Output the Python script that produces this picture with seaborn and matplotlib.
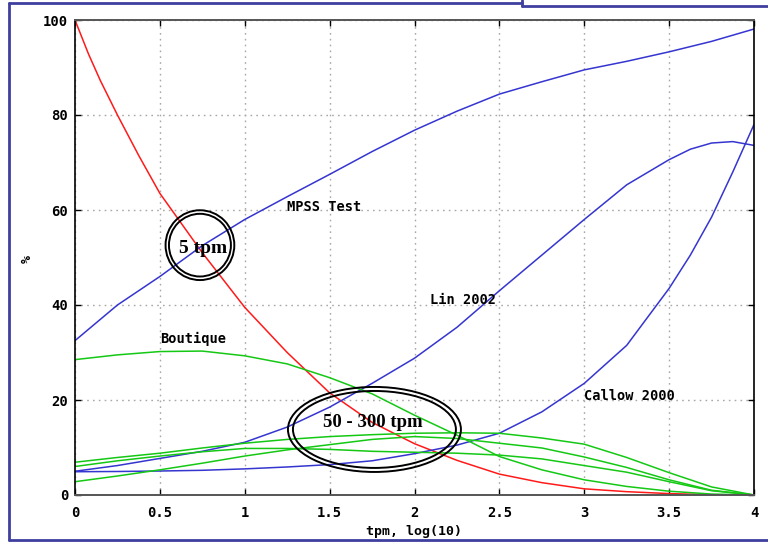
import numpy as np
import pandas as pd
import matplotlib
matplotlib.use("Agg")
import matplotlib.pyplot as plt
from matplotlib.patches import Ellipse
from matplotlib.lines import Line2D
import seaborn as sns

# ---- data ----
x_grid = [0, 0.25, 0.5, 0.75, 1.0, 1.25, 1.5, 1.75, 2.0, 2.25, 2.5, 2.75, 3.0, 3.25, 3.5, 3.75, 4.0]

red_x = [0, 0.04, 0.08, 0.15, 0.25, 0.375, 0.5, 0.75, 1.0, 1.25, 1.5, 1.75, 2.0, 2.25, 2.5, 2.75, 3.0, 3.25, 3.5, 3.7]
red_y = [100, 96.4, 92.8, 87.2, 80, 71.5, 63.5, 51, 39.5, 30, 21.5, 15.3, 10.8, 7.3, 4.4, 2.6, 1.3, 0.7, 0.3, 0.1]

mpss_y = [32.5, 40, 46, 52.5, 58, 62.8, 67.5, 72.3, 76.8, 80.8, 84.4, 87, 89.5, 91.3, 93.3, 95.5, 98.1]

lin_x = [0, 0.25, 0.5, 0.75, 1.0, 1.25, 1.5, 1.75, 2.0, 2.25, 2.5, 2.75, 3.0, 3.25, 3.5, 3.625, 3.75, 3.875, 4.0]
lin_y = [5.0, 6.2, 7.7, 9.2, 11.1, 14.3, 18.5, 23.5, 28.8, 35.3, 43, 50.5, 58, 65.3, 70.6, 72.8, 74.1, 74.4, 73.6]

callow_x = [0, 0.25, 0.5, 0.75, 1.0, 1.25, 1.5, 1.75, 2.0, 2.25, 2.5, 2.75, 3.0, 3.25, 3.5, 3.625, 3.75, 3.875, 4.0]
callow_y = [4.9, 4.95, 5.05, 5.2, 5.5, 5.9, 6.4, 7.2, 8.7, 10.5, 13, 17.5, 23.5, 31.5, 43.5, 50.5, 58.5, 68, 78]

boutique_y = [28.5, 29.5, 30.2, 30.3, 29.3, 27.6, 24.7, 21.3, 16.8, 12.6, 8.1, 5.3, 3.2, 1.8, 0.8, 0.2, 0]
green_a_y = [6.9, 7.9, 8.8, 9.9, 10.9, 11.7, 12.3, 12.7, 13.0, 13.1, 13.0, 12.0, 10.7, 7.9, 4.7, 1.7, 0]
green_b_y = [6.0, 7.2, 8.2, 9.1, 9.8, 9.8, 9.6, 9.2, 9.0, 8.8, 8.4, 7.6, 6.2, 4.8, 2.8, 0.9, 0]
green_c_y = [2.8, 4.0, 5.3, 6.7, 8.2, 9.5, 10.6, 11.7, 12.3, 11.9, 10.9, 9.9, 8.0, 5.8, 3.2, 1.0, 0]

x_ticks = [0, 0.5, 1, 1.5, 2, 2.5, 3, 3.5, 4]
x_tick_labels = ["0", "0.5", "1", "1.5", "2", "2.5", "3", "3.5", "4"]
y_ticks = [0, 20, 40, 60, 80, 100]
y_tick_labels = ["0", "20", "40", "60", "80", "100"]

RED = "#ff1a1a"
BLUE = "#3535d0"
GREEN = "#14c814"
palette = {"red": RED, "MPSS Test": BLUE, "Lin 2002": BLUE, "Callow 2000": BLUE,
           "Boutique": GREEN, "g_a": GREEN, "g_b": GREEN, "g_c": GREEN}

frames = [
    pd.DataFrame({"x": red_x, "y": red_y, "s": "red"}),
    pd.DataFrame({"x": x_grid, "y": mpss_y, "s": "MPSS Test"}),
    pd.DataFrame({"x": lin_x, "y": lin_y, "s": "Lin 2002"}),
    pd.DataFrame({"x": callow_x, "y": callow_y, "s": "Callow 2000"}),
    pd.DataFrame({"x": x_grid, "y": boutique_y, "s": "Boutique"}),
    pd.DataFrame({"x": x_grid, "y": green_a_y, "s": "g_a"}),
    pd.DataFrame({"x": x_grid, "y": green_b_y, "s": "g_b"}),
    pd.DataFrame({"x": x_grid, "y": green_c_y, "s": "g_c"}),
]
df = pd.concat(frames, ignore_index=True)

sns.set_theme(style="white")
mono = "DejaVu Sans Mono"

fig = plt.figure(figsize=(7.68, 5.42), dpi=100)
ax = fig.add_axes([75 / 768, 1 - 495 / 542, 679 / 768, 475 / 542])

sns.lineplot(data=df, x="x", y="y", hue="s", palette=palette, estimator=None,
             sort=False, units="s", legend=False, linewidth=1.1, ax=ax)

ax.set_xlim(0, 4)
ax.set_ylim(0, 100)
ax.set_xticks(x_ticks)
ax.set_xticklabels(x_tick_labels)
ax.set_yticks(y_ticks)
ax.set_yticklabels(y_tick_labels)
ax.grid(True, color="#a8a8a8", linestyle=(0, (1.2, 3)), linewidth=1.0)
ax.tick_params(direction="in", length=4.5, width=1.0, color="black",
               top=True, right=True, bottom=True, left=True)
ax.tick_params(axis="x", pad=8)
ax.tick_params(axis="y", pad=5)
for lab in ax.get_xticklabels() + ax.get_yticklabels():
    lab.set_fontfamily(mono)
    lab.set_fontweight("bold")
    lab.set_fontsize(10)
    lab.set_color("black")

for side in ["left", "right"]:
    ax.spines[side].set_color("black")
    ax.spines[side].set_linewidth(1.2)
for side in ["top", "bottom"]:
    ax.spines[side].set_color("#555555")
    ax.spines[side].set_linewidth(1.4)

ax.set_xlabel("tpm, log(10)", fontfamily=mono, fontweight="bold", fontsize=9.5, color="black")
ax.set_ylabel("%", fontfamily=mono, fontweight="bold", fontsize=9.5, color="black")
ax.xaxis.set_label_coords((414 - 75) / 679, (495 - 531) / 475)
ax.xaxis.label.set_va("center")
ax.yaxis.set_label_coords((27 - 75) / 679, (495 - 259) / 475)
ax.yaxis.label.set_va("center")

# curve labels
label_kw = dict(fontfamily=mono, fontweight="bold", fontsize=9.8, color="black",
                ha="left", va="center")
ax.text(1.25, 60.6, "MPSS Test", **label_kw)
ax.text(2.09, 41.0, "Lin 2002", **label_kw)
ax.text(0.50, 32.8, "Boutique", **label_kw)
ax.text(3.00, 20.8, "Callow 2000", **label_kw)

# annotation ellipses
for w, h in [(0.405, 14.7), (0.365, 13.2)]:
    ax.add_patch(Ellipse((0.736, 52.6), w, h, fill=False, edgecolor="black", linewidth=1.4, zorder=5))
for w, h in [(1.019, 17.9), (0.96, 16.2)]:
    ax.add_patch(Ellipse((1.764, 13.8), w, h, fill=False, edgecolor="black", linewidth=1.4, zorder=5))

serif = "Liberation Serif"
ax.text(0.754, 51.0, "5 tpm", fontfamily=serif, fontweight="bold", fontsize=14,
        ha="center", va="baseline", color="black", zorder=6)
ax.text(1.753, 14.3, "50 - 300 tpm", fontfamily=serif, fontweight="bold", fontsize=13.5,
        ha="center", va="baseline", color="black", zorder=6)

# slide frame
fc = "#3f3f9f"
W, H = 768, 542
def fl(xs, ys):
    fig.add_artist(Line2D([x / W for x in xs], [1 - y / H for y in ys],
                          transform=fig.transFigure, color=fc, linewidth=2.0))
fl([9, 9], [3, 540])
fl([9, 768], [540, 540])
fl([9, 522], [3, 3])
fl([522, 522], [0, 5.5])
fl([522, 768], [5.5, 5.5])

fig.savefig("out.png", dpi=100)
